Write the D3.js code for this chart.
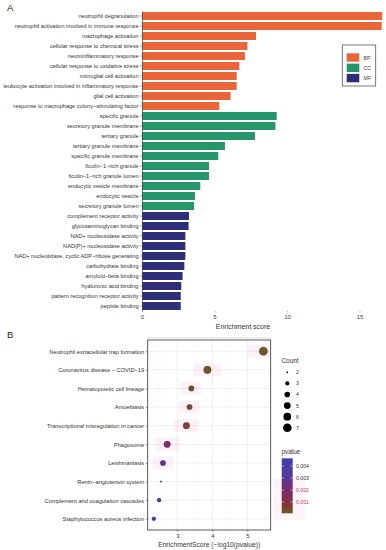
<!DOCTYPE html>
<html>
<head>
<meta charset="utf-8">
<script src="https://cdn.jsdelivr.net/npm/d3@7"></script>
<style>
  body { margin: 0; background: #fff; }
  svg { display: block; font-family: "Liberation Sans", Arial, sans-serif; }
</style>
</head>
<body>
<script>
// ---- panel A data: GO terms, score, ontology ----
var goTerms = [
  "neutrophil degranulation",
  "neutrophil activation involved in immune response",
  "macrophage activation",
  "cellular response to chemical stress",
  "neuroinflammatory response",
  "cellular response to oxidative stress",
  "microglial cell activation",
  "leukocyte activation involved in inflammatory response",
  "glial cell activation",
  "response to macrophage colony\u2212stimulating factor",
  "specific granule",
  "secretory granule membrane",
  "tertiary granule",
  "tertiary granule membrane",
  "specific granule membrane",
  "ficolin\u22121\u2212rich granule",
  "ficolin\u22121\u2212rich granule lumen",
  "endocytic vesicle membrane",
  "endocytic vesicle",
  "secretory granule lumen",
  "complement receptor activity",
  "glycosaminoglycan binding",
  "NAD+ nucleosidase activity",
  "NAD(P)+ nucleosidase activity",
  "NAD+ nucleotidase, cyclic ADP\u2212ribose generating",
  "carbohydrate binding",
  "amyloid\u2212beta binding",
  "hyaluronic acid binding",
  "pattern recognition receptor activity",
  "peptide binding"
];
var goScores = [16.57, 16.53, 7.86, 7.27, 7.10, 6.71, 6.53, 6.53, 6.11, 5.33,
                9.29, 9.20, 7.79, 5.72, 5.26, 4.62, 4.62, 4.02, 3.66, 3.59,
                3.24, 3.21, 2.99, 2.99, 2.99, 2.92, 2.80, 2.71, 2.67, 2.67];
var goOntology = ["BP","BP","BP","BP","BP","BP","BP","BP","BP","BP",
                  "CC","CC","CC","CC","CC","CC","CC","CC","CC","CC",
                  "MF","MF","MF","MF","MF","MF","MF","MF","MF","MF"];
var ontologies = ["BP", "CC", "MF"];
var xTicksA = [0, 5, 10, 15];

// ---- panel B data: KEGG pathways ----
var keggTerms = [
  "Neutrophil extracellular trap formation",
  "Coronavirus disease \u2212 COVID\u221219",
  "Hematopoietic cell lineage",
  "Amoebiasis",
  "Transcriptional misregulation in cancer",
  "Phagosome",
  "Leishmaniasis",
  "Renin\u2212angiotensin system",
  "Complement and coagulation cascades",
  "Staphylococcus aureus infection"
];
var keggScore = [5.46, 3.86, 3.40, 3.35, 3.26, 2.71, 2.59, 2.53, 2.48, 2.33];
var keggCount = [7, 6, 4, 4, 5, 5, 4, 2, 3, 3];
var keggPvalue = [0.0000035, 0.00014, 0.00040, 0.00045, 0.00055, 0.0019, 0.0026, 0.0030, 0.0033, 0.0047];
var countLevels = [2, 3, 4, 5, 6, 7];
var pTicks = [0.001, 0.002, 0.003, 0.004];
var xTicksB = [3, 4, 5];

var W = 386, H = 550;
var svg = d3.select("body").append("svg").attr("width", W).attr("height", H);

// ================= panel A =================
var ontColor = d3.scaleOrdinal().domain(ontologies).range(["#EA653A", "#26966B", "#2E2F78"]);

var xA = d3.scaleLinear().domain([0, 16.62]).range([142, 383]);
var yA = d3.scaleBand().domain(goTerms).range([11, 311]).paddingInner(0.2).paddingOuter(0.1);

svg.append("text").attr("x", 7).attr("y", 11).attr("font-size", 9.5).attr("fill", "#222").text("A");

svg.append("g").selectAll("rect")
  .data(goTerms)
  .enter().append("rect")
  .attr("x", xA(0))
  .attr("y", function(d) { return yA(d); })
  .attr("width", function(d, i) { return xA(goScores[i]) - xA(0); })
  .attr("height", yA.bandwidth())
  .attr("fill", function(d, i) { return ontColor(goOntology[i]); });

// y axis
var yAxisA = svg.append("g").attr("transform", "translate(" + xA(0) + ",0)")
  .call(d3.axisLeft(yA).tickSize(2).tickSizeOuter(0).tickPadding(1.5));
yAxisA.select(".domain").attr("stroke", "#444").attr("stroke-width", 0.7);
yAxisA.selectAll(".tick line").attr("stroke", "#555").attr("stroke-width", 0.5);
yAxisA.selectAll("text").attr("font-size", 5.6).attr("fill", "#333").attr("font-family", null);

// x axis (labels only)
var xAxisA = svg.append("g").attr("transform", "translate(0,311)")
  .call(d3.axisBottom(xA).tickValues(xTicksA).tickSize(1.5).tickPadding(2));
xAxisA.select(".domain").remove();
xAxisA.selectAll(".tick line").attr("stroke", "#777").attr("stroke-width", 0.5);
xAxisA.selectAll("text").attr("font-size", 6).attr("fill", "#444").attr("font-family", null);

svg.append("text").attr("x", 243).attr("y", 328.5).attr("text-anchor", "middle")
  .attr("font-size", 7).attr("fill", "#333").text("Enrichment score");

// legend
var legA = svg.append("g");
legA.append("rect").attr("x", 342.3).attr("y", 45).attr("width", 33.4).attr("height", 41)
  .attr("fill", "#fff").attr("stroke", "#555").attr("stroke-width", 0.8);
legA.selectAll("rect.sw").data(ontologies).enter().append("rect").attr("class", "sw")
  .attr("x", 346.7).attr("y", function(d, i) { return 53.3 + i * 10.3; })
  .attr("width", 12.6).attr("height", 8.4)
  .attr("fill", function(d) { return ontColor(d); });
legA.selectAll("text").data(ontologies).enter().append("text")
  .attr("x", 363.5).attr("y", function(d, i) { return 59.5 + i * 10.3; })
  .attr("font-size", 5.3).attr("fill", "#444").text(function(d) { return d; });

// faint separator left over between the panels
svg.append("line").attr("x1", 147).attr("x2", 270).attr("y1", 338).attr("y2", 338)
  .attr("stroke", "#bbb").attr("stroke-width", 0.5);

// ================= panel B =================
svg.append("text").attr("x", 7).attr("y", 338).attr("font-size", 9.5).attr("fill", "#222").text("B");

var pL = 147.7, pR = 270.7, pT = 340, pB = 530;
var xB = d3.scaleLinear().domain([2.154, 5.669]).range([pL, pR]);
var yB = d3.scalePoint().domain(keggTerms).range([pT, pB]).padding(0.6);

var rScale = d3.scaleLinear().domain([2, 7]).range([0.9 * 0.9, 4.3 * 4.3]);
function radius(v) { return Math.sqrt(rScale(v)); }

var pColor = d3.scaleLinear()
  .domain([0, 0.0004, 0.0008, 0.002, 0.003, 0.0047])
  .range(["#6a5826", "#72502a", "#8b3135", "#7c2b72", "#583894", "#3a3fb3"]);

// grid
var grid = svg.append("g");
[2.5, 3.5, 4.5, 5.5].forEach(function(v) {
  grid.append("line").attr("x1", xB(v)).attr("x2", xB(v)).attr("y1", pT).attr("y2", pB)
    .attr("stroke", "#f2f2f2").attr("stroke-width", 0.4);
});
xTicksB.forEach(function(v) {
  grid.append("line").attr("x1", xB(v)).attr("x2", xB(v)).attr("y1", pT).attr("y2", pB)
    .attr("stroke", "#e4e4e4").attr("stroke-width", 0.6);
});
keggTerms.forEach(function(t) {
  grid.append("line").attr("x1", pL).attr("x2", pR).attr("y1", yB(t)).attr("y2", yB(t))
    .attr("stroke", "#e4e4e4").attr("stroke-width", 0.6);
});

// pink haze round the bigger points
function hazeX0(i) { return Math.max(xB(keggScore[i]) - 3.6 * radius(keggCount[i]), pL); }
function hazeX1(i) { return Math.min(xB(keggScore[i]) + 3.6 * radius(keggCount[i]), pR); }
svg.append("g").selectAll("rect")
  .data(keggTerms)
  .enter().append("rect")
  .attr("x", function(d, i) { return hazeX0(i); })
  .attr("y", function(d) { return yB(d) - 6.5; })
  .attr("width", function(d, i) { return hazeX1(i) - hazeX0(i); })
  .attr("height", 13)
  .attr("fill", "#ff9fd6")
  .attr("opacity", function(d, i) { return keggCount[i] > 3 ? 0.14 : 0; });

svg.append("g").selectAll("circle")
  .data(keggTerms)
  .enter().append("circle")
  .attr("cx", function(d, i) { return xB(keggScore[i]); })
  .attr("cy", function(d) { return yB(d); })
  .attr("r", function(d, i) { return radius(keggCount[i]); })
  .attr("fill", function(d, i) { return pColor(keggPvalue[i]); })
  .attr("stroke", "#2a1a2a").attr("stroke-opacity", 0.35).attr("stroke-width", 0.4);

svg.append("rect").attr("x", pL).attr("y", pT).attr("width", pR - pL).attr("height", pB - pT)
  .attr("fill", "none").attr("stroke", "#333").attr("stroke-width", 0.8);

var yAxisB = svg.append("g").attr("transform", "translate(" + pL + ",0)")
  .call(d3.axisLeft(yB).tickSize(2).tickPadding(1.5));
yAxisB.select(".domain").remove();
yAxisB.selectAll(".tick line").attr("stroke", "#444").attr("stroke-width", 0.5);
yAxisB.selectAll("text").attr("font-size", 5.7).attr("fill", "#333").attr("font-family", null);

var xAxisB = svg.append("g").attr("transform", "translate(0," + pB + ")")
  .call(d3.axisBottom(xB).tickValues(xTicksB).tickFormat(d3.format("d")).tickSize(2).tickPadding(1.5));
xAxisB.select(".domain").remove();
xAxisB.selectAll(".tick line").attr("stroke", "#444").attr("stroke-width", 0.5);
xAxisB.selectAll("text").attr("font-size", 5.8).attr("fill", "#333").attr("font-family", null);

svg.append("text").attr("x", (pL + pR) / 2).attr("y", 546.5).attr("text-anchor", "middle")
  .attr("font-size", 6.7).attr("fill", "#333").text("EnrichmentScore (\u2212log10(pvalue))");

// Count legend
var legC = svg.append("g");
legC.append("text").attr("x", 281.5).attr("y", 362.5).attr("font-size", 6.4).attr("fill", "#333").text("Count");
legC.selectAll("circle").data(countLevels).enter().append("circle")
  .attr("cx", 287.3).attr("cy", function(d, i) { return 372.3 + i * 11.1; })
  .attr("r", function(d) { return radius(d); }).attr("fill", "#000");
legC.selectAll("text.lab").data(countLevels).enter().append("text").attr("class", "lab")
  .attr("x", 296).attr("y", function(d, i) { return 374.2 + i * 11.1; })
  .attr("font-size", 5.2).attr("fill", "#333").text(function(d) { return d; });

// pvalue colorbar
var cbTop = 458.3, cbBot = 513.3;
var yCb = d3.scaleLinear().domain([0.0000583, 0.00464]).range([cbBot, cbTop]);
var defs = svg.append("defs");
var grad = defs.append("linearGradient").attr("id", "pgrad")
  .attr("x1", 0).attr("y1", 1).attr("x2", 0).attr("y2", 0);
d3.range(0, 1.0001, 0.05).forEach(function(t) {
  var p = yCb.domain()[0] + t * (yCb.domain()[1] - yCb.domain()[0]);
  grad.append("stop").attr("offset", t).attr("stop-color", pColor(p));
});
svg.append("rect").attr("x", 273).attr("y", 478).attr("width", 32).attr("height", 42)
  .attr("fill", "#ff9fd6").attr("opacity", 0.12);
svg.append("text").attr("x", 281.5).attr("y", 454).attr("font-size", 6.4).attr("fill", "#333").text("pvalue");
svg.append("rect").attr("x", 281.7).attr("y", cbTop).attr("width", 11).attr("height", cbBot - cbTop)
  .attr("fill", "url(#pgrad)");
var cbTicks = svg.append("g");
pTicks.forEach(function(p) {
  cbTicks.append("line").attr("x1", 281.7).attr("x2", 283.9).attr("y1", yCb(p)).attr("y2", yCb(p))
    .attr("stroke", "#fff").attr("stroke-width", 0.5);
  cbTicks.append("line").attr("x1", 290.5).attr("x2", 292.7).attr("y1", yCb(p)).attr("y2", yCb(p))
    .attr("stroke", "#fff").attr("stroke-width", 0.5);
  cbTicks.append("text").attr("x", 296).attr("y", yCb(p) + 1.9)
    .attr("font-size", 5.2).attr("fill", p < 0.0025 ? "#c0406a" : "#333").text(p);
});
</script>
</body>
</html>
